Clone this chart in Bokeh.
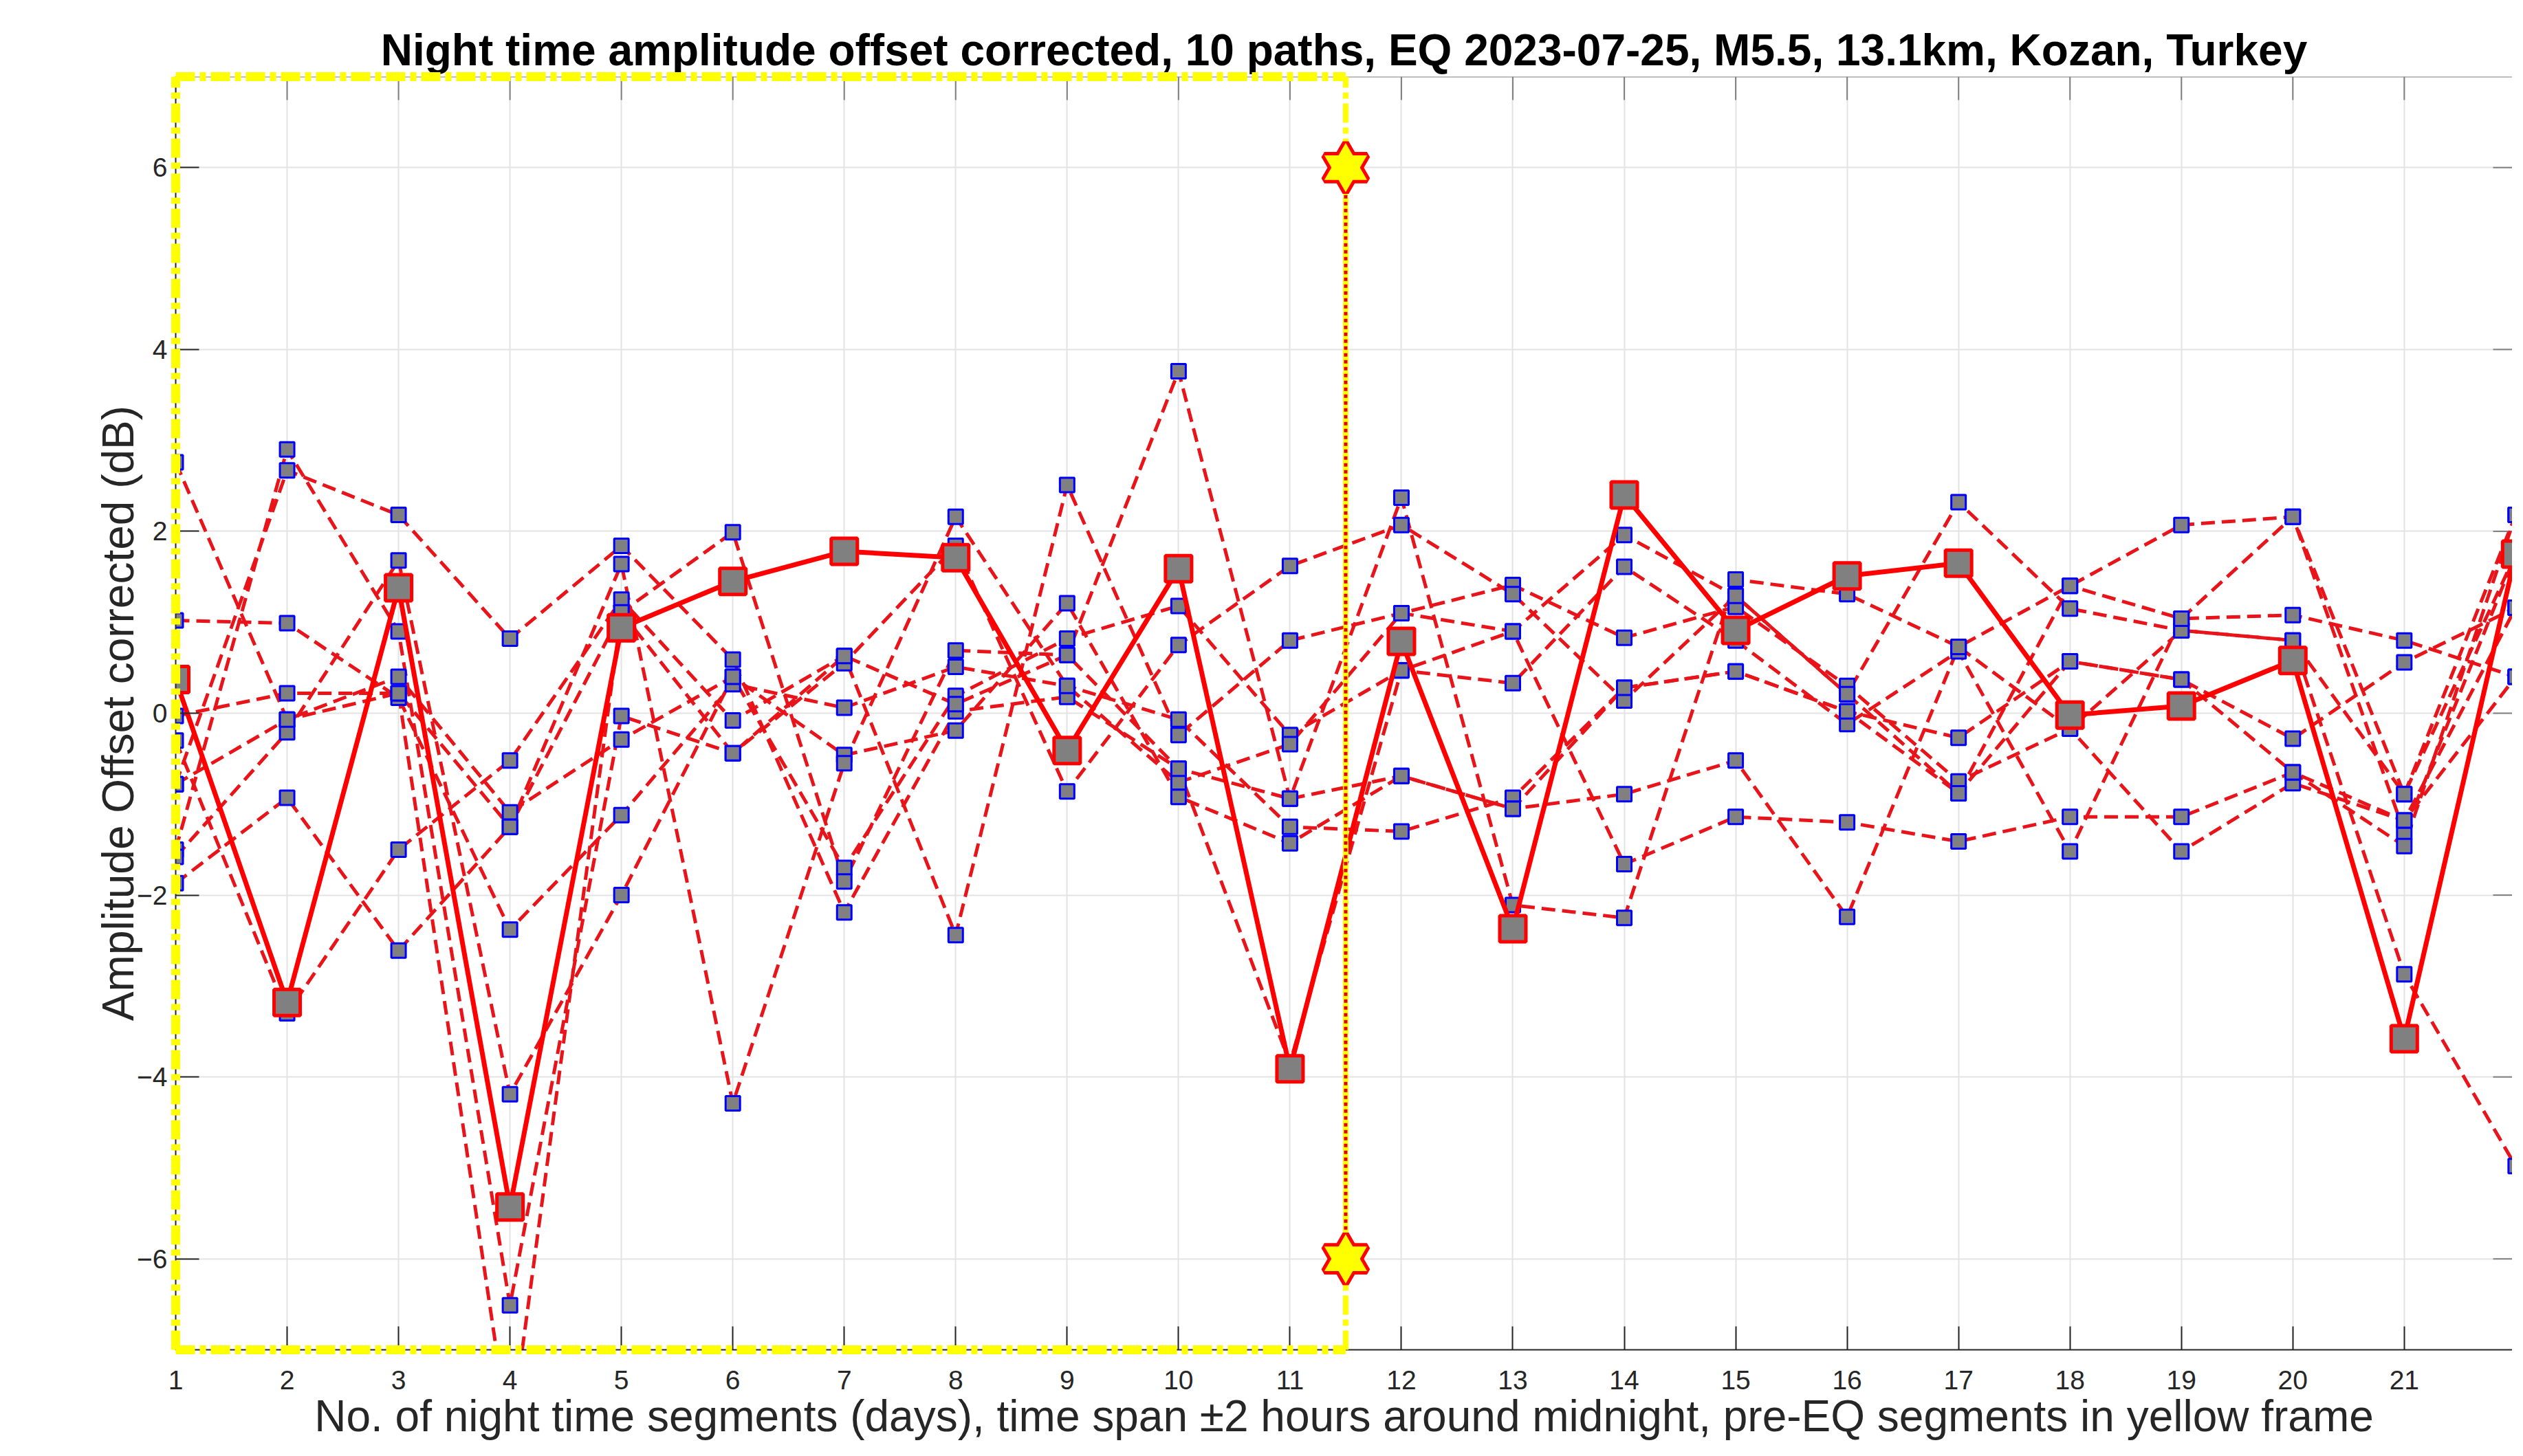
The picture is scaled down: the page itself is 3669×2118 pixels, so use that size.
import math
from bokeh.plotting import figure
from bokeh.models import FixedTicker, Range1d, Span
from bokeh.embed import file_html
from bokeh.resources import INLINE

# ---------------- data ----------------
days = list(range(1, 23))
x_ticks = list(range(1, 23))
y_ticks = [-6, -4, -2, 0, 2, 4, 6]

path_01 = [2.76, -0.07, 0.40, -1.09, -0.29, 0.40, -1.70, 0.19, 0.82, 1.18, -0.24, 0.47, 0.90, 1.96, 1.29, 0.21, 2.32, 1.15, 0.91, 0.80, -0.89, 2.18]
path_02 = [1.02, 0.99, 0.17, -2.38, -1.12, 0.32, 0.06, 0.51, 0.30, -0.07, -1.25, -1.30, -0.93, 0.28, 0.46, 0.02, -0.27, 0.57, 0.37, -0.28, 0.56, 1.16]
path_03 = [-0.03, 0.22, 0.22, -8.00, 1.11, 1.99, -1.85, 0.69, 0.64, 3.76, -0.94, 2.37, -2.11, -2.25, 1.47, 1.31, 0.73, 1.40, 2.07, 2.16, -1.31, 1.75]
path_04 = [-0.30, -3.30, -1.50, -0.52, 1.25, -0.08, 0.63, -2.44, 2.51, -0.24, 0.80, 1.10, 1.41, 0.83, 1.17, 0.30, -0.75, -0.17, -1.52, -0.77, -1.18, 1.16]
path_05 = [-0.78, 2.67, 2.18, 0.82, 1.84, 0.59, -2.19, 0.02, 0.18, -0.61, -3.85, 0.47, 0.33, 1.61, 0.80, -0.12, 0.68, -1.52, 1.04, 1.08, 0.80, 0.40]
path_06 = [-1.50, 2.90, 0.90, -6.51, -0.03, -0.44, 0.55, 1.84, -0.86, 0.75, 1.62, 2.07, 1.31, 0.14, 1.29, 0.21, -0.88, 0.57, 0.37, -0.65, -1.46, 2.18]
path_07 = [-1.58, -0.21, 1.68, -4.19, -2.00, 0.40, -0.46, -0.19, 1.21, -0.92, -1.43, -0.69, -1.05, -0.89, -0.52, -2.24, 0.73, -0.17, 0.91, 0.80, -2.87, -4.98]
path_08 = [-1.87, -0.93, -2.61, -1.25, 1.64, -4.29, -0.55, 2.16, 0.30, -0.76, -0.34, 1.10, 0.90, -1.66, -1.14, -1.20, -1.41, -1.14, -1.14, -0.65, -1.18, 0.40]
path_09 = [0.37, -3.18, 1.38, -5.43, 0.94, 1.45, 1.78, 1.71, -0.41, 1.59, -3.91, 0.79, -2.37, 2.40, 0.91, 1.51, 1.65, -0.02, 0.08, 0.58, -3.58, 1.75]
path_10 = [-0.78, -0.07, 0.22, -1.25, 1.11, -0.44, 0.63, 0.10, 0.64, -0.61, -0.94, -0.69, -1.05, 0.28, 0.46, 0.02, -0.88, 1.40, 1.04, 2.16, -0.89, 1.75]

mean_offset = [0.37, -3.18, 1.38, -5.43, 0.94, 1.45, 1.78, 1.71, -0.41, 1.59, -3.91, 0.79, -2.37, 2.40, 0.91, 1.51, 1.65, -0.02, 0.08, 0.58, -3.58, 1.75]

eq_segment = 11.5          # earthquake position (end of pre-EQ frame)
eq_star_y = [6, -6]
frame_x = [1, 11.5]
frame_y = [-7, 7]
x_lim = [1, 21.97]

paths = [path_01, path_02, path_03, path_04, path_05,
         path_06, path_07, path_08, path_09, path_10]

TITLE = "Night time amplitude offset corrected, 10 paths, EQ 2023-07-25, M5.5, 13.1km, Kozan, Turkey"
XLABEL = "No. of night time segments (days), time span \u00b12 hours around midnight, pre-EQ segments in yellow frame"
YLABEL = "Amplitude Offset corrected (dB)"

FONT = "Liberation Sans"
AX = "#262626"
W, H = 3653, 2102

p = figure(width=W, height=H,
           x_range=Range1d(*x_lim), y_range=Range1d(*frame_y),
           output_backend="svg", toolbar_location=None,
           min_border_left=255, min_border_right=0,
           min_border_top=111, min_border_bottom=139,
           background_fill_color="white", border_fill_color="white")
p.outline_line_color = None

# title
p.title.text = TITLE
p.title.text_font = FONT
p.title.text_font_size = "64px"
p.title.text_font_style = "bold"
p.title.text_color = "black"
p.title.align = "center"
p.title.standoff = 6

# axes
xa = p.xaxis[0]
xa.ticker = FixedTicker(ticks=x_ticks)
ya = p.yaxis[0]
ya.ticker = FixedTicker(ticks=y_ticks)
for ax in (xa, ya):
    ax.axis_line_color = AX
    ax.axis_line_width = 2
    ax.major_tick_in = 34
    ax.major_tick_out = 0
    ax.major_tick_line_color = AX
    ax.major_tick_line_width = 2
    ax.minor_tick_line_color = None
    ax.major_label_text_font = FONT
    ax.major_label_text_font_size = "39px"
    ax.major_label_text_color = AX
    ax.axis_label_text_font = FONT
    ax.axis_label_text_font_style = "normal"
    ax.axis_label_text_color = AX
xa.major_label_standoff = 30
xa.major_label_text_line_height = 1.0
xa.axis_label = XLABEL
xa.axis_label_text_font_size = "64px"
xa.axis_label_text_line_height = 1.0
xa.axis_label_standoff = 0
ya.major_label_standoff = 12
ya.axis_label = YLABEL
ya.axis_label_text_font_size = "64px"
ya.axis_label_standoff = -12

# box line at the top and inward ticks on top / right
p.add_layout(Span(location=frame_y[1], dimension="width", line_color="#808080", line_width=2))
p.ray(x=x_ticks, y=[frame_y[1]] * len(x_ticks), length=34, length_units="screen",
      angle=-math.pi / 2, line_color="#808080", line_width=2)
p.ray(x=[x_lim[1]] * len(y_ticks), y=y_ticks, length=28, length_units="screen",
      angle=math.pi, line_color="#808080", line_width=2)

# grid
p.xgrid.ticker = FixedTicker(ticks=x_ticks)
p.ygrid.ticker = FixedTicker(ticks=y_ticks)
p.grid.grid_line_color = "#e3e3e3"
p.grid.grid_line_width = 2

# individual paths: dashed red lines, blue-edged grey squares
for vals in paths:
    p.line(days, vals, line_color="#e8141a", line_width=5, line_dash="20 10")
for vals in paths:
    p.scatter(days, vals, marker="square", size=21, fill_color="#808080",
              line_color="#0000ff", line_width=3)

# mean line
p.line(days, mean_offset, line_color="#ff0000", line_width=7)
p.scatter(days, mean_offset, marker="square", size=38, fill_color="#808080",
          line_color="#ff0000", line_width=5)

# yellow pre-EQ frame (dash-dot)
YEL = "#ffff00"
FD = "28 7 9 7"
p.line([frame_x[0], frame_x[0]], frame_y, line_color=YEL, line_width=13, line_dash=FD, level="overlay")
p.line(frame_x, [frame_y[0], frame_y[0]], line_color=YEL, line_width=13, line_dash=FD, level="overlay")
p.line(frame_x, [frame_y[1], frame_y[1]], line_color=YEL, line_width=13, line_dash=FD, level="overlay")
p.line([frame_x[1], frame_x[1]], frame_y, line_color=YEL, line_width=8, line_dash=FD, level="overlay")

# EQ vertical marker between stars
p.line([eq_segment, eq_segment], eq_star_y, line_color=YEL, line_width=7, level="overlay")
p.line([eq_segment, eq_segment], eq_star_y, line_color="#e00000", line_width=5,
       line_dash="5 5", level="overlay")

# hexagram stars
sx = [eq_segment, eq_segment]
for mk in ("triangle", "inverted_triangle"):
    p.scatter(sx, eq_star_y, marker=mk, size=62, fill_color=YEL,
              line_color="#ff0000", line_width=10, level="overlay")
for mk in ("triangle", "inverted_triangle"):
    p.scatter(sx, eq_star_y, marker=mk, size=62, fill_color=YEL,
              line_color=None, level="overlay")

open("out.html", "w").write(file_html(p, INLINE))
